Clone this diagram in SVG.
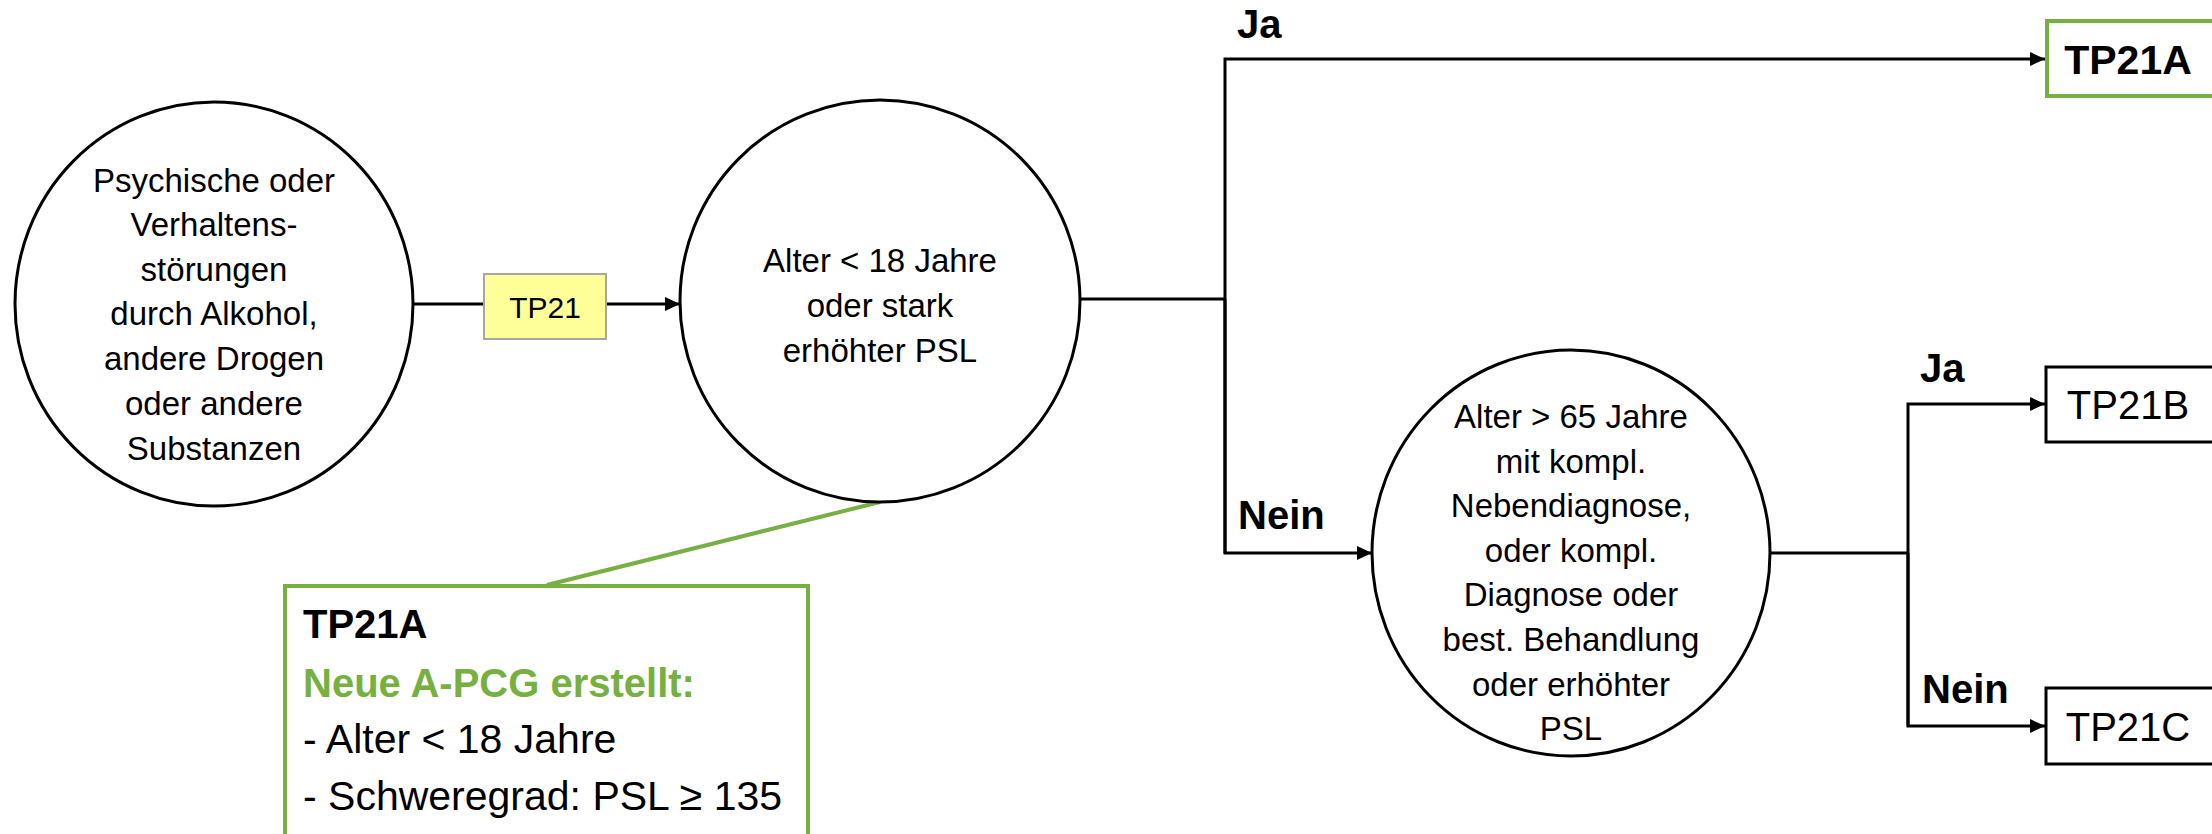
<svg xmlns="http://www.w3.org/2000/svg" width="2212" height="834" viewBox="0 0 2212 834">
<defs>
<marker id="arr" markerUnits="userSpaceOnUse" markerWidth="16" markerHeight="16" refX="15" refY="7" orient="auto">
<path d="M0,0 L15,7 L0,14 Z" fill="#000"/>
</marker>
<style>
.node{fill:#fff;stroke:#000;stroke-width:3}
.t{font-family:"Liberation Sans",Arial,sans-serif;font-size:33px;fill:#000;text-anchor:middle}
.lbl{font-family:"Liberation Sans",Arial,sans-serif;font-size:40px;font-weight:bold;fill:#000}
.box{fill:#fff;stroke:#000;stroke-width:3}
.gbox{fill:#fff;stroke:#76B041;stroke-width:4}
.bt{font-family:"Liberation Sans",Arial,sans-serif;font-size:40px;fill:#000;text-anchor:middle}
.c{fill:none;stroke:#000;stroke-width:3}
.ct{font-family:"Liberation Sans",Arial,sans-serif;font-size:41px;fill:#000}
</style>
</defs>

<g id="connectors">
<line class="c" x1="413" y1="304" x2="484" y2="304"/>
<line class="c" x1="606" y1="304" x2="680" y2="304" marker-end="url(#arr)"/>
<polyline class="c" points="1081,299 1225,299"/>
<polyline class="c" points="1225,553 1225,59 2045,59" marker-end="url(#arr)"/>
<polyline class="c" points="1225,299 1225,553 1372,553" marker-end="url(#arr)"/>
<polyline class="c" points="1770,553 1908,553"/>
<polyline class="c" points="1908,726 1908,404 2045,404" marker-end="url(#arr)"/>
<polyline class="c" points="1908,553 1908,726 2045,726" marker-end="url(#arr)"/>
<line x1="547" y1="585" x2="880" y2="502" stroke="#76B041" stroke-width="4"/>
<text class="lbl" x="1237" y="38">Ja</text>
<text class="lbl" x="1238" y="529">Nein</text>
<text class="lbl" x="1920" y="382">Ja</text>
<text class="lbl" x="1922" y="703">Nein</text>
</g>

<g id="tp21">
<rect x="484" y="274" width="122" height="65" fill="#FFFF99" stroke="#A6A6A6" stroke-width="2"/>
<text class="t" x="545" y="318" style="font-size:30px">TP21</text>
</g>

<g id="start">
<ellipse class="node" cx="214" cy="304" rx="199" ry="202"/>
<text class="t" x="214" y="192">Psychische oder</text>
<text class="t" x="214" y="236">Verhaltens-</text>
<text class="t" x="214" y="281">störungen</text>
<text class="t" x="214" y="325">durch Alkohol,</text>
<text class="t" x="214" y="370">andere Drogen</text>
<text class="t" x="214" y="415">oder andere</text>
<text class="t" x="214" y="460">Substanzen</text>
</g>

<g id="q1">
<ellipse class="node" cx="880" cy="301" rx="200" ry="201"/>
<text class="t" x="880" y="272">Alter &lt; 18 Jahre</text>
<text class="t" x="880" y="317">oder stark</text>
<text class="t" x="880" y="362">erhöhter PSL</text>
</g>

<g id="q2">
<ellipse class="node" cx="1571" cy="553" rx="199" ry="203"/>
<text class="t" x="1571" y="428">Alter &gt; 65 Jahre</text>
<text class="t" x="1571" y="473">mit kompl.</text>
<text class="t" x="1571" y="517">Nebendiagnose,</text>
<text class="t" x="1571" y="562">oder kompl.</text>
<text class="t" x="1571" y="606">Diagnose oder</text>
<text class="t" x="1571" y="651">best. Behandlung</text>
<text class="t" x="1571" y="696">oder erhöhter</text>
<text class="t" x="1571" y="740">PSL</text>
</g>

<g id="tp21a">
<rect class="gbox" x="2047" y="21" width="170" height="75"/>
<text class="bt" x="2128" y="74" style="font-weight:bold;font-size:41px">TP21A</text>
</g>

<g id="tp21b">
<rect class="box" x="2046" y="367" width="170" height="75"/>
<text class="bt" x="2128" y="419">TP21B</text>
</g>

<g id="tp21c">
<rect class="box" x="2046" y="688" width="170" height="76"/>
<text class="bt" x="2128" y="741">TP21C</text>
</g>

<g id="callout">
<rect class="gbox" x="285" y="586" width="523" height="270"/>
<text class="ct" x="303" y="638" style="font-weight:bold;font-size:40px">TP21A</text>
<text class="ct" x="303" y="697" style="font-weight:bold;font-size:40px;fill:#76B041">Neue A-PCG erstellt:</text>
<text class="ct" x="303" y="753">- Alter &lt; 18 Jahre</text>
<text class="ct" x="303" y="810">- Schweregrad: PSL ≥ 135</text>
</g>
</svg>
